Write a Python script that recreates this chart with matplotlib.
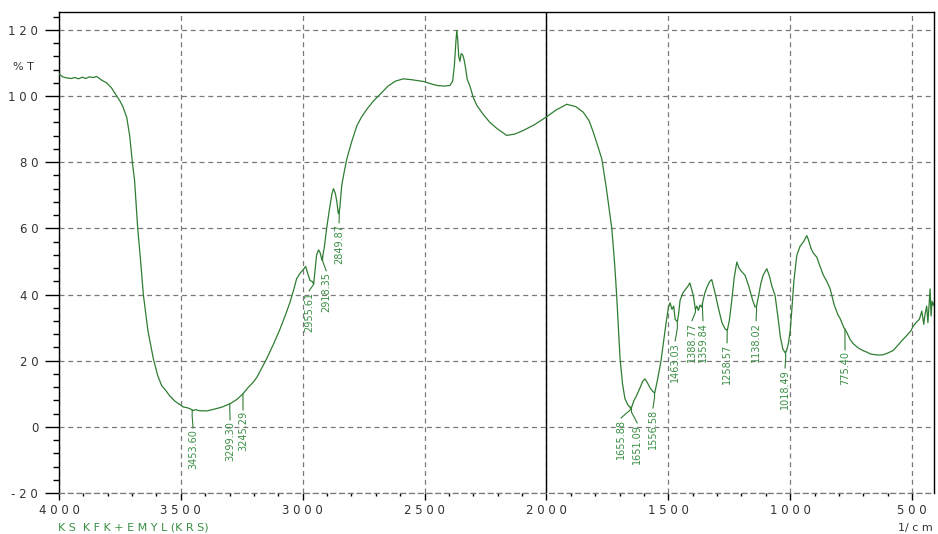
import numpy as np
import matplotlib
matplotlib.use('Agg')
import matplotlib.pyplot as plt
from matplotlib.ticker import MultipleLocator, FixedLocator, FixedFormatter

# IR spectrum, wavenumber [1/cm] vs transmittance [%T]
wavenumber = [4000, 3985, 3970, 3950, 3935, 3920, 3905, 3890, 3875, 3860, 3845, 3825, 3805,
              3785, 3763, 3750, 3738, 3722, 3710, 3699, 3690, 3677, 3665, 3654, 3635, 3613,
              3595, 3579, 3560, 3545, 3525, 3504, 3490, 3475, 3460, 3450, 3440, 3425, 3393,
              3360, 3330, 3298, 3270, 3245, 3225, 3203, 3188, 3170, 3148, 3120, 3093, 3070,
              3052, 3035, 3025, 3010, 2995, 2988, 2980, 2970, 2962, 2955, 2950, 2943, 2935,
              2928, 2921, 2912, 2902, 2890, 2880, 2874, 2866, 2860, 2854, 2848, 2840, 2830,
              2819, 2800, 2778, 2760, 2737, 2710, 2683, 2650, 2620, 2587, 2550, 2505, 2470,
              2450, 2420, 2396, 2385, 2378, 2372, 2368, 2364, 2360, 2355, 2350, 2344, 2338,
              2332, 2325, 2314, 2300, 2286, 2260, 2232, 2200, 2163, 2130, 2095, 2050, 2000,
              1960, 1917, 1880, 1849, 1825, 1808, 1790, 1773, 1755, 1745, 1732, 1720, 1712,
              1705, 1698, 1688, 1678, 1665, 1655, 1650, 1642, 1630, 1615, 1605, 1596, 1585,
              1575, 1565, 1556, 1545, 1530, 1520, 1510, 1500, 1493, 1485, 1478, 1472, 1463,
              1458, 1452, 1440, 1430, 1418, 1412, 1404, 1397, 1389, 1383, 1377, 1370, 1363,
              1358, 1350, 1340, 1330, 1322, 1310, 1295, 1280, 1267, 1258, 1250, 1240, 1230,
              1219, 1210, 1200, 1185, 1170, 1155, 1144, 1138, 1130, 1120, 1110, 1096, 1085,
              1075, 1062, 1050, 1040, 1030, 1021, 1015, 1008, 1000, 994, 985, 973, 960, 945,
              932, 925, 915, 905, 891, 880, 865, 850, 836, 820, 805, 795, 780, 775, 768, 755,
              741, 720, 700, 686, 670, 650, 635, 618, 600, 577, 560, 540, 522, 505, 495, 481,
              470, 460, 452, 447, 440, 435, 430, 426, 422, 418, 413, 410]
transmittance = [106.7, 105.8, 105.5, 105.3, 105.6, 105.2, 105.7, 105.3, 105.8, 105.6, 105.9,
                 104.8, 104.0, 102.5, 100.0, 98.5, 96.8, 93.5, 88.0, 80.0, 74.5, 60.0, 50.0,
                 40.0, 29.0, 20.6, 15.5, 12.5, 10.8, 9.3, 7.8, 6.7, 6.0, 5.8, 5.4, 4.9, 5.2,
                 4.9, 4.8, 5.4, 6.0, 7.0, 8.3, 10.0, 11.8, 13.5, 15.0, 17.5, 20.6, 25.0, 29.6,
                 34.0, 37.7, 42.0, 44.8, 46.5, 47.8, 48.5, 46.5, 44.2, 44.0, 43.2, 47.0, 52.0,
                 53.5, 52.5, 50.3, 54.0, 59.9, 66.0, 70.5, 72.0, 70.5, 68.0, 64.4, 66.0, 73.0,
                 77.0, 81.0, 86.0, 91.0, 93.5, 96.0, 98.5, 100.5, 103.0, 104.5, 105.2, 104.9,
                 104.4, 103.6, 103.2, 103.0, 103.2, 104.5, 109.0, 116.0, 119.8, 117.0, 112.0,
                 110.5, 112.8, 112.5, 111.0, 108.5, 105.0, 103.0, 99.5, 97.2, 94.5, 92.0, 90.0,
                 88.1, 88.5, 89.6, 91.3, 93.7, 95.8, 97.5, 96.8, 95.1, 92.5, 89.1, 85.0, 81.0,
                 72.5, 67.0, 60.0, 49.0, 39.7, 30.0, 20.6, 13.0, 8.5, 6.5, 5.8, 6.0, 7.8, 9.5,
                 12.0, 13.8, 14.5, 13.2, 11.8, 10.8, 10.2, 14.0, 20.0, 25.5, 31.0, 36.0, 37.5,
                 35.5, 36.5, 32.5, 31.8, 34.0, 38.2, 40.5, 41.5, 42.7, 43.5, 41.5, 39.5, 35.5,
                 36.5, 35.2, 36.8, 36.2, 38.0, 40.5, 42.5, 44.0, 44.5, 41.0, 36.0, 31.5, 29.6,
                 29.2, 32.0, 38.0, 45.0, 49.8, 48.0, 47.0, 45.8, 42.5, 38.5, 36.2, 36.5, 39.5,
                 43.5, 46.0, 47.8, 45.5, 42.5, 39.7, 33.0, 27.0, 23.5, 22.4, 23.0, 25.0, 29.0,
                 34.7, 44.0, 51.8, 54.5, 56.0, 57.8, 56.5, 54.0, 52.5, 51.3, 49.0, 46.0, 44.0,
                 41.7, 37.0, 34.0, 32.7, 30.0, 29.5, 28.6, 26.5, 25.1, 23.8, 23.0, 22.6, 22.0,
                 21.8, 21.7, 21.8, 22.3, 23.1, 24.5, 26.2, 27.6, 29.0, 30.5, 31.7, 32.5, 35.0,
                 31.0, 34.0, 36.5, 31.5, 37.0, 41.7, 33.5, 38.0, 36.7, 37.5]

# picked peaks
peak_wn = [3453.60, 3299.30, 3245.29, 2955.61, 2918.35, 2849.87, 1655.88, 1651.09,
           1556.58, 1463.03, 1388.77, 1359.84, 1258.57, 1138.02, 1018.49, 775.40]
peak_label_x = [3450, 3298, 3245, 2974, 2904, 2851, 1694, 1628,
                1563, 1472, 1403, 1358, 1259, 1140, 1021, 775]
peak_label_top = [-0.6, 1.8, 4.8, 40.8, 46.9, 61.4, 2.4, 0.9,
                  5.4, 25.7, 31.8, 31.8, 25.1, 31.8, 17.5, 23.0]

x_ticks = [4000, 3500, 3000, 2500, 2000, 1500, 1000, 500]
x_ticklabels = ['4 0 0 0', '3 5 0 0', '3 0 0 0', '2 5 0 0', '2 0 0 0', '1 5 0 0', '1 0 0 0', '5 0 0']
y_ticks = [-20, 0, 20, 40, 60, 80, 100, 120]
y_ticklabels = ['- 2 0', '0', '2 0', '4 0', '6 0', '8 0', '1 0 0', '1 2 0']

line_green = '#2f7d32'
text_green = '#3a8f45'
grid_grey = '#7a7a7a'

fig = plt.figure(figsize=(9.38, 5.34), dpi=100)
ax = fig.add_axes([59/938, 41/534, 875/938, 481/534])

ax.plot(wavenumber, transmittance, color=line_green, lw=0.9, zorder=3)

# peak markers: short leader from the curve, value written vertically beneath
for wn, lx, top in zip(peak_wn, peak_label_x, peak_label_top):
    t = np.interp(wn, wavenumber[::-1], transmittance[::-1])
    ax.plot([wn, wn, lx], [t, (t + top) / 2 + 1, top + 0.3], color=line_green, lw=0.8, zorder=3)
    ax.text(lx, top, '%.2f' % wn, rotation=90, ha='center', va='top',
            fontsize=7, color=text_green, zorder=4)

ax.set_xlim(4000, 410)
ax.set_ylim(-20, 125.4)

ax.xaxis.set_major_locator(FixedLocator(x_ticks))
ax.xaxis.set_major_formatter(FixedFormatter(x_ticklabels))
ax.xaxis.set_minor_locator(MultipleLocator(100))
ax.yaxis.set_major_locator(FixedLocator(y_ticks))
ax.yaxis.set_major_formatter(FixedFormatter(y_ticklabels))
ax.yaxis.set_minor_locator(MultipleLocator(4))

ax.tick_params(axis='y', which='major', direction='out', length=10, width=1, pad=5,
               labelsize=8.5, labelcolor='#333333')
ax.tick_params(axis='y', which='minor', direction='out', length=4.5, width=1)
ax.tick_params(axis='x', which='major', direction='out', length=5, width=1, pad=3,
               labelsize=8.5, labelcolor='#333333')
ax.tick_params(axis='x', which='minor', direction='out', length=2.5, width=1)

ax.grid(True, which='major', color=grid_grey, lw=0.9, ls=(0, (4, 3)))
for gl in ax.get_xgridlines():
    if abs(gl.get_xdata()[0] - 2000) < 1:
        gl.set_visible(False)
ax.axvline(2000, color='black', lw=1, zorder=2)

for side in ['left', 'top', 'right']:
    ax.spines[side].set_color('black')
    ax.spines[side].set_linewidth(1)
ax.spines['bottom'].set_color(grid_grey)
ax.spines['bottom'].set_linestyle((0, (4, 3)))
ax.spines['bottom'].set_linewidth(0.9)

fig.text(13/938, 1 - 67/534, '% T', fontsize=8, color='#333333', ha='left', va='center')
fig.text(933/938, 1 - 528/534, '1/ c m', fontsize=8, color='#333333', ha='right', va='center')
fig.text(58/938, 1 - 527/534, 'K S  K F K + E M Y L (K R S)', fontsize=8, color=text_green,
         ha='left', va='center')

fig.savefig('out.png', dpi=100)
